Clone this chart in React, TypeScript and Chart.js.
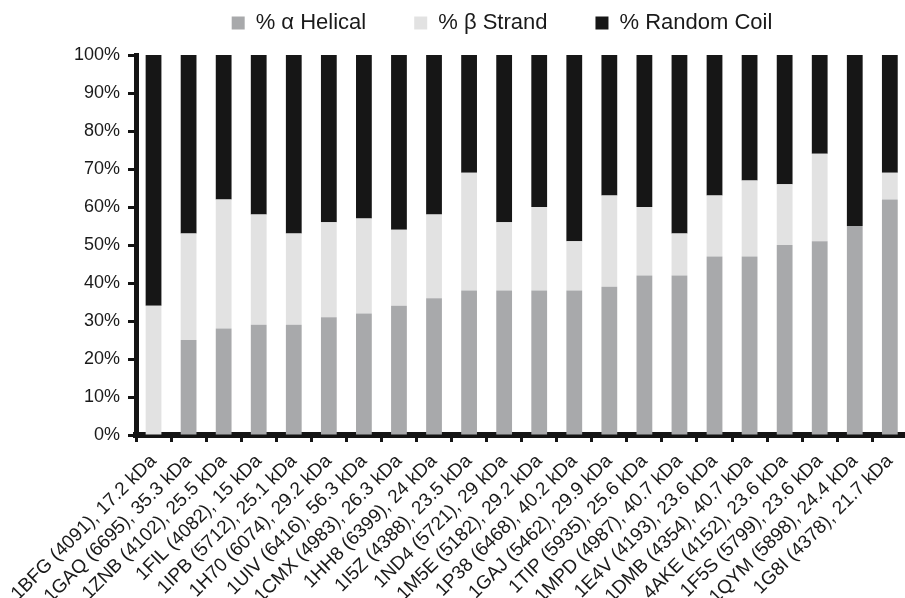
import React, { useEffect, useRef } from "react";
import { Chart, registerables } from "chart.js";

Chart.register(...registerables);

const categories = [
  "1BFG (4091), 17.2 kDa",
  "1GAQ (6695), 35.3 kDa",
  "1ZNB (4102), 25.5 kDa",
  "1FIL (4082), 15 kDa",
  "1IPB (5712), 25.1 kDa",
  "1H70 (6074), 29.2 kDa",
  "1UIV (6416), 56.3 kDa",
  "1CMX (4983), 26.3 kDa",
  "1HH8 (6399), 24 kDa",
  "1I5Z (4388), 23.5 kDa",
  "1ND4 (5721), 29 kDa",
  "1M5E (5182), 29.2 kDa",
  "1P38 (6468), 40.2 kDa",
  "1GAJ (5462), 29.9 kDa",
  "1TIP (5935), 25.6 kDa",
  "1MPD (4987), 40.7 kDa",
  "1E4V (4193), 23.6 kDa",
  "1DMB (4354), 40.7 kDa",
  "4AKE (4152), 23.6 kDa",
  "1F5S (5799), 23.6 kDa",
  "1QYM (5898), 24.4 kDa",
  "1G8I (4378), 21.7 kDa",
];

const alphaHelical = [0, 25, 28, 29, 29, 31, 32, 34, 36, 38, 38, 38, 38, 39, 42, 42, 47, 47, 50, 51, 55, 62];
const betaStrand = [34, 28, 34, 29, 24, 25, 25, 20, 22, 31, 18, 22, 13, 24, 18, 11, 16, 20, 16, 23, 0, 7];
const randomCoil = [66, 47, 38, 42, 47, 44, 43, 46, 42, 31, 44, 40, 49, 37, 40, 47, 37, 33, 34, 26, 45, 31];

const seriesNames = ["% α Helical", "% β Strand", "% Random Coil"];
const seriesColors = ["#a8a9ab", "#e2e2e2", "#161616"];

const yMin = 0;
const yMax = 100;
const yStep = 10;

const FONT = "'Liberation Sans', Arial, Helvetica, sans-serif";
const TEXT = "#1a1a1a";
const AXIS = "#141414";

export default function App() {
  const ref = useRef<HTMLCanvasElement | null>(null);

  useEffect(() => {
    if (!ref.current) return;

    const legendPatch = {
      id: "legendPatch",
      beforeUpdate(chart: any) {
        const lg = chart.legend;
        if (lg && !lg.__patched) {
          lg.__patched = true;
          const fit = lg.fit.bind(lg);
          lg.fit = function () {
            fit();
            this.height = 55;
          };
          const draw = lg.draw.bind(lg);
          lg.draw = function () {
            const t = this.top;
            const l = this.left;
            const r = this.right;
            this.top = t - 36;
            this.left = l + 46;
            this.right = r + 46;
            draw();
            this.top = t;
            this.left = l;
            this.right = r;
          };
        }
      },
    };

    const chart = new Chart(ref.current, {
      type: "bar",
      data: {
        labels: categories,
        datasets: [
          { label: seriesNames[0], data: alphaHelical, backgroundColor: seriesColors[0] },
          { label: seriesNames[1], data: betaStrand, backgroundColor: seriesColors[1] },
          { label: seriesNames[2], data: randomCoil, backgroundColor: seriesColors[2] },
        ].map((d) => ({ ...d, borderWidth: 0, barPercentage: 0.45, categoryPercentage: 1 })),
      },
      options: {
        responsive: false,
        animation: false,
        layout: { padding: { left: 0, right: 2, top: 0, bottom: 0 } },
        plugins: {
          legend: {
            display: true,
            position: "top",
            align: "center",
            labels: {
              boxWidth: 13,
              boxHeight: 13,
              padding: 48,
              color: TEXT,
              font: { family: FONT, size: 22 },
            },
          },
          tooltip: { enabled: false },
          title: { display: false },
        },
        scales: {
          x: {
            stacked: true,
            z: 1,
            grid: {
              display: true,
              drawOnChartArea: false,
              drawTicks: true,
              tickLength: 7,
              tickWidth: 3,
              tickColor: AXIS,
              offset: true,
            },
            border: { display: true, color: AXIS, width: 6 },
            ticks: {
              autoSkip: false,
              maxRotation: 45,
              minRotation: 45,
              color: TEXT,
              padding: 8,
              font: { family: FONT, size: 19 },
            },
            afterFit: (s: any) => {
              s.height = 163;
            },
          },
          y: {
            stacked: true,
            min: yMin,
            max: yMax,
            z: 1,
            grid: {
              display: true,
              drawOnChartArea: false,
              drawTicks: true,
              tickLength: 8,
              tickWidth: 3,
              tickColor: AXIS,
            },
            border: { display: true, color: AXIS, width: 5 },
            ticks: {
              stepSize: yStep,
              color: TEXT,
              padding: 8,
              font: { family: FONT, size: 18 },
              callback: (v: any) => `${v}%`,
            },
            afterFit: (s: any) => {
              s.width = 136;
            },
          },
        },
      },
      plugins: [legendPatch],
    });

    return () => chart.destroy();
  }, []);

  return (
    <div
      style={{
        position: "fixed",
        left: 0,
        top: 0,
        width: 905,
        height: 598,
        overflow: "hidden",
        background: "#ffffff",
      }}
    >
      <canvas ref={ref} width={914} height={598} style={{ display: "block" }} />
    </div>
  );
}
